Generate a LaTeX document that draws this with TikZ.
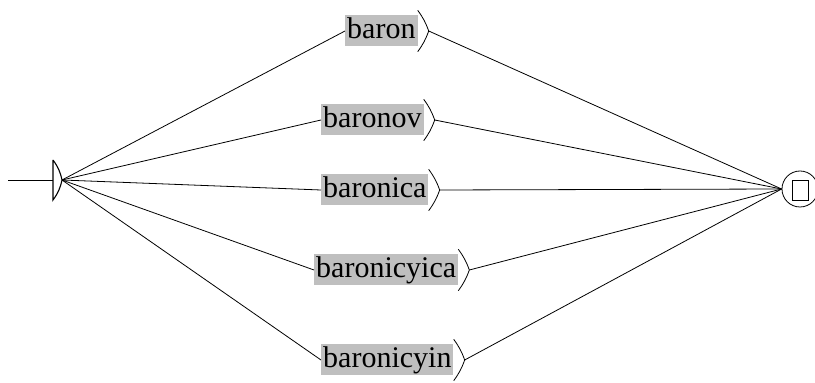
\documentclass[tikz,border=0pt]{standalone}
\usepackage{fontspec}
\setmainfont{Liberation Serif}
\usetikzlibrary{calc}
\tikzset{
  lbl/.style={fill=black!25, anchor=west, inner xsep=2pt, inner ysep=2pt,
    text height=21pt, text depth=6pt, font=\fontsize{30}{32}\selectfont},
  edge/.style={line width=0.8pt, black},
}
\begin{document}
\begin{tikzpicture}[x=1pt,y=1pt]
\useasboundingbox (0,0) rectangle (815,383);
% initial state
\coordinate (s) at (62,203);
\coordinate (sin) at (8,203);
\coordinate (st) at (53,223);
\coordinate (sb) at (53,183);
\draw[edge] (sin) -- ($(st)!0.5!(sb)$);
\draw[edge, line width=1.1pt] (st) -- (sb) to[bend right=12] (s) to[bend right=12] (st);
% final state
\node[circle, draw, line width=0.8pt, minimum size=36pt, inner sep=0pt] (fin) at (800,194) {};
\node[draw, line width=0.8pt, minimum width=16pt, minimum height=20pt, inner sep=0pt] (finsq) at (800,193) {};
% boxes
\node[lbl] (b1) at (345,352) {baron};
\node[lbl] (b2) at (321,263) {baronov};
\node[lbl] (b3) at (321,193) {baronica};
\node[lbl] (b4) at (314,113) {baronicyica};
\node[lbl] (b5) at (321,23) {baronicyin};
\foreach \i in {1,...,5}{
  \coordinate (t\i) at ($(b\i.east)+(11,0)$);
  \draw[edge] ($(b\i.north east)+(0,5)$) to[bend left=8] (t\i) to[bend left=8] ($(b\i.south east)+(0,-5)$);
  \draw[edge] (s) -- (b\i.west);
  \draw[edge] (t\i) -- (fin.west);
}
\end{tikzpicture}
\end{document}
